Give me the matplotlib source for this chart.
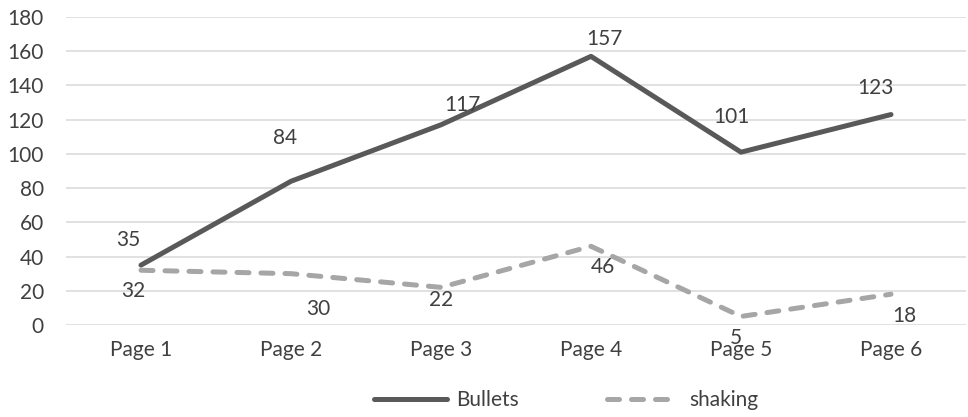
import matplotlib
matplotlib.use("Agg")
import matplotlib.pyplot as plt

pages = ["Page 1", "Page 2", "Page 3", "Page 4", "Page 5", "Page 6"]
bullets = [35, 84, 117, 157, 101, 123]
shaking = [32, 30, 22, 46, 5, 18]

# label offsets in points (dx, dy) relative to each data point
bullets_off = [(-9.4, 18), (-4.3, 31), (15.8, 14.4), (9.4, 12.5), (-7, 25), (-11.5, 19)]
shaking_off = [(-5.8, -15.3), (19.4, -25.4), (0, -9), (8.6, -15), (-3.6, -15.8), (9.4, -15.7)]

plt.rcParams["font.family"] = ["Lato", "DejaVu Sans"]
text_color = "#404040"
fs = 15

fig = plt.figure(figsize=(9.68, 4.17), dpi=100)
ax = fig.add_axes([66 / 968, 1 - 325 / 417, 900 / 968, 308 / 417])

x = list(range(len(pages)))
ax.plot(x, bullets, color="#595959", lw=3.6, solid_capstyle="round",
        solid_joinstyle="round", label="Bullets", zorder=3)
ax.plot(x, shaking, color="#a6a6a6", lw=3.6, dashes=(2.4, 2.4),
        dash_capstyle="round", dash_joinstyle="round", label="shaking", zorder=3)

for xi, v, (dx, dy) in zip(x, bullets, bullets_off):
    ax.annotate(str(v), (xi, v), xytext=(dx, dy), textcoords="offset points",
                ha="center", va="center", fontsize=fs, color=text_color)
for xi, v, (dx, dy) in zip(x, shaking, shaking_off):
    ax.annotate(str(v), (xi, v), xytext=(dx, dy), textcoords="offset points",
                ha="center", va="center", fontsize=fs, color=text_color,
                annotation_clip=False)

ax.set_xlim(-0.5, len(pages) - 0.5)
ax.set_ylim(0, 180)
ax.set_yticks(range(0, 181, 20))
ax.set_xticks(x)
ax.set_xticklabels(pages)
ax.grid(axis="y", color="#d9d9d9", lw=1.1)
ax.set_axisbelow(True)
for s in ax.spines.values():
    s.set_visible(False)
ax.tick_params(length=0, labelsize=fs, colors=text_color)
ax.tick_params(axis="y", pad=16)
ax.tick_params(axis="x", pad=11)

fig.legend(loc="center", bbox_to_anchor=(566 / 968, 1 - 400 / 417), ncol=2,
           frameon=False, fontsize=fs, handlelength=3.5, columnspacing=4.2,
           handletextpad=0.45, labelcolor=text_color)

fig.savefig("out.png", dpi=100)
